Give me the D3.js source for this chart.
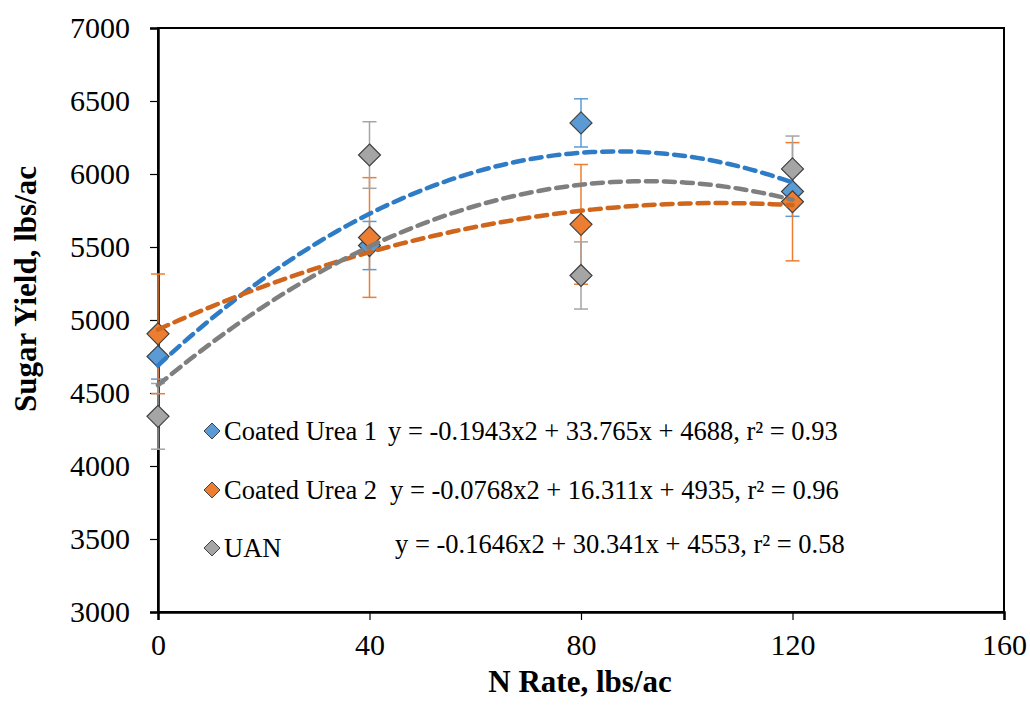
<!DOCTYPE html>
<html>
<head>
<meta charset="utf-8">
<style>
  body { margin: 0; background: #fff; }
  text { font-family: "Liberation Serif", "Times New Roman", serif; fill: #000; }
</style>
</head>
<body>
<div id="chart-area"></div>
<script src="https://cdn.jsdelivr.net/npm/d3@7/dist/d3.min.js"></script>
<script>
    // N rates and sugar yield (lbs/ac)
    var nRates = [0, 40, 80, 120];
    var seriesNames = ["Coated Urea 1", "Coated Urea 2", "UAN"];
    var urea1 = [4750, 5510, 6350, 5880];
    var urea1Err = [155, 165, 165, 170];
    var urea2 = [4905, 5565, 5655, 5810];
    var urea2Err = [410, 410, 410, 405];
    var uan = [4340, 6130, 5305, 6035];
    var uanErr = [225, 228, 230, 225];
    // quadratic trendline coefficients [a, b, c] as printed on the chart
    var fitCoef = [[-0.1943, 33.765, 4688], [-0.0768, 16.311, 4935], [-0.1646, 30.341, 4553]];
    var fitLabels = [
        "y = -0.1943x2 + 33.765x + 4688, r\u00b2 = 0.93",
        "y = -0.0768x2 + 16.311x + 4935, r\u00b2 = 0.96",
        "y = -0.1646x2 + 30.341x + 4553, r\u00b2 = 0.58"
    ];
    var xTicks = [0, 40, 80, 120, 160];
    var yTicks = [3000, 3500, 4000, 4500, 5000, 5500, 6000, 6500, 7000];

    var markerColors = ["#5B9BD5", "#ED7D31", "#A5A5A5"];
    var lineColors = ["#2E7BC6", "#D0651C", "#7F7F7F"];

    var width = 1030, height = 711;
    var plotL = 158, plotR = 1004, plotT = 28, plotB = 612;

    var svg = d3.select("#chart-area").append("svg")
        .attr("width", width).attr("height", height);

    var x = d3.scaleLinear().domain([0, 160]).range([plotL, plotR]);
    var y = d3.scaleLinear().domain([3000, 7000]).range([plotB, plotT]);

    var series = [
        {vals: urea1, err: urea1Err},
        {vals: urea2, err: urea2Err},
        {vals: uan, err: uanErr}
    ];

    // frame
    svg.append("rect")
        .attr("x", plotL).attr("y", plotT)
        .attr("width", plotR - plotL).attr("height", plotB - plotT)
        .attr("fill", "none").attr("stroke", "#000").attr("stroke-width", 2);

    // axes
    var yAxis = d3.axisLeft(y).tickValues(yTicks).tickFormat(d3.format("d")).tickSize(8).tickPadding(20);
    var gy = svg.append("g").attr("transform", "translate(" + plotL + ",0)").call(yAxis);
    var xAxis = d3.axisBottom(x).tickValues(xTicks).tickFormat(d3.format("d")).tickSize(8).tickPadding(14);
    var gx = svg.append("g").attr("transform", "translate(0," + plotB + ")").call(xAxis);
    [gx, gy].forEach(function(g) {
        g.select(".domain").attr("stroke", "#000").attr("stroke-width", 2.5);
        g.selectAll(".tick line").attr("stroke", "#000").attr("stroke-width", 1.2);
        g.selectAll(".tick text")
            .style("font-family", "'Liberation Serif', serif")
            .style("font-size", "30px").attr("fill", "#000");
    });

    // error bars
    series.forEach(function(s, si) {
        var g = svg.append("g");
        nRates.forEach(function(n, i) {
            var cx = x(n), y1 = y(s.vals[i] + s.err[i]), y2 = y(s.vals[i] - s.err[i]);
            g.append("line").attr("x1", cx).attr("x2", cx).attr("y1", y1).attr("y2", y2)
                .attr("stroke", markerColors[si]).attr("stroke-width", 1.5);
            [y1, y2].forEach(function(yy) {
                g.append("line").attr("x1", cx - 7).attr("x2", cx + 7).attr("y1", yy).attr("y2", yy)
                    .attr("stroke", markerColors[si]).attr("stroke-width", 1.5);
            });
        });
    });

    var diamond = function(cx, cy, r) {
        return "M" + cx + "," + (cy - r) + "L" + (cx + r) + "," + cy + "L" + cx + "," + (cy + r) + "L" + (cx - r) + "," + cy + "Z";
    };

    // markers
    series.forEach(function(s, si) {
        svg.append("g").selectAll("path").data(s.vals).enter().append("path")
            .attr("d", function(d, i) { return diamond(x(nRates[i]), y(d), 11); })
            .attr("fill", markerColors[si]).attr("stroke", "#404040").attr("stroke-width", 1.2);
    });

    // trendlines
    var line = d3.line().x(function(d) { return x(d[0]); }).y(function(d) { return y(d[1]); }).curve(d3.curveBasis);
    fitCoef.forEach(function(c, si) {
        var pts = d3.range(0, 120.5, 2).map(function(n) { return [n, c[0] * n * n + c[1] * n + c[2]]; });
        svg.append("path").attr("d", line(pts))
            .attr("fill", "none").attr("stroke", lineColors[si])
            .attr("stroke-width", 4.5).attr("stroke-dasharray", "11,7")
            .attr("stroke-linecap", "round");
    });

    // legend
    var legY = [431, 490, 548];
    var eqX = [388, 390, 395];
    var eqY = [431, 490, 544];
    seriesNames.forEach(function(name, i) {
        svg.append("path").attr("d", diamond(212, legY[i], 8))
            .attr("fill", markerColors[i]).attr("stroke", "#404040").attr("stroke-width", 1);
        svg.append("text").attr("x", 224).attr("y", legY[i]).attr("dy", "0.35em")
            .style("font-size", "26.5px").text(name);
        svg.append("text").attr("x", eqX[i]).attr("y", eqY[i]).attr("dy", "0.35em")
            .style("font-size", "26.5px").text(fitLabels[i]);
    });

    // axis titles
    svg.append("text").attr("x", 580).attr("y", 692).attr("text-anchor", "middle")
        .style("font-size", "31px").style("font-weight", "bold").text("N Rate, lbs/ac");
    svg.append("text").attr("transform", "translate(36,289) rotate(-90)").attr("text-anchor", "middle")
        .style("font-size", "31px").style("font-weight", "bold").text("Sugar Yield, lbs/ac");
</script>
</body>
</html>
